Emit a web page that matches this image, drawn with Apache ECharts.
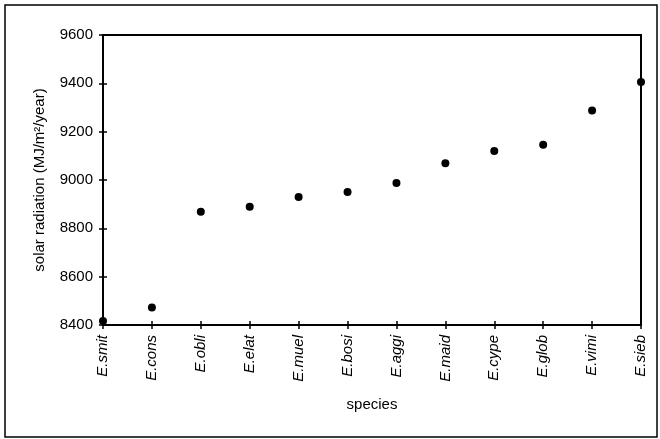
<!DOCTYPE html>
<html><head><meta charset="utf-8">
<script src="https://cdn.jsdelivr.net/npm/echarts@6/dist/echarts.min.js"></script>
<style>html,body{margin:0;padding:0;background:#fff}#c{width:660px;height:439px}</style>
</head><body><div id="c"></div>
<script>
const categories = ['E.smit','E.cons','E.obli','E.elat','E.muel','E.bosi','E.aggi','E.maid','E.cype','E.glob','E.vimi','E.sieb'];
const values = [8417, 8472, 8869, 8889, 8930, 8950, 8988, 9069, 9120, 9146, 9288, 9406];
const yMin = 8400, yMax = 9600, yStep = 200;

const chart = echarts.init(document.getElementById('c'));
const font = 'Liberation Sans, Arial, sans-serif';
chart.setOption({
  animation: false,
  backgroundColor: '#fff',
  graphic: [{
    type: 'rect', shape: {x: 5, y: 5, width: 652, height: 432},
    style: {fill: 'none', stroke: '#000', lineWidth: 1.5}, z: -1
  }],
  grid: {left: 103, right: 19, top: 35, bottom: 114, show: true, borderColor: '#000', borderWidth: 2},
  xAxis: [{
    type: 'category', data: categories, boundaryGap: false,
    name: 'species', nameLocation: 'middle', nameGap: 72, nameMoveOverlap: false,
    nameTextStyle: {fontFamily: font, fontSize: 15, color: '#000'},
    axisLine: {lineStyle: {color: '#000', width: 2}},
    axisTick: {show: true, alignWithLabel: true, length: 4, lineStyle: {color: '#000', width: 1.5}},
    axisLabel: {rotate: 90, fontStyle: 'italic', fontFamily: font, fontSize: 15, color: '#000', margin: 10, interval: 0},
    splitLine: {show: false}
  }, {
    type: 'category', data: categories, boundaryGap: false, position: 'bottom',
    axisLine: {show: false},
    axisTick: {show: true, inside: true, length: 4, lineStyle: {color: '#000', width: 1.5}},
    axisLabel: {show: false}, splitLine: {show: false}
  }],
  yAxis: [{
    type: 'value', min: yMin, max: yMax, interval: yStep,
    name: 'solar radiation (MJ/m²/year)', nameLocation: 'middle', nameGap: 56, nameMoveOverlap: false,
    nameTextStyle: {fontFamily: font, fontSize: 15, color: '#000'},
    axisLine: {show: true, lineStyle: {color: '#000', width: 2}},
    axisTick: {show: true, length: 4, lineStyle: {color: '#000', width: 1.5}},
    axisLabel: {fontFamily: font, fontSize: 15, color: '#000', margin: 10, formatter: v => String(v)},
    splitLine: {show: false}
  }, {
    type: 'value', min: yMin, max: yMax, interval: yStep, position: 'left',
    axisLine: {show: false},
    axisTick: {show: true, inside: true, length: 4, lineStyle: {color: '#000', width: 1.5}},
    axisLabel: {show: false}, splitLine: {show: false}
  }],
  series: [{
    type: 'scatter', data: values, symbol: 'circle', symbolSize: 8,
    itemStyle: {color: '#000', opacity: 1}, clip: false
  }]
});
</script></body></html>
